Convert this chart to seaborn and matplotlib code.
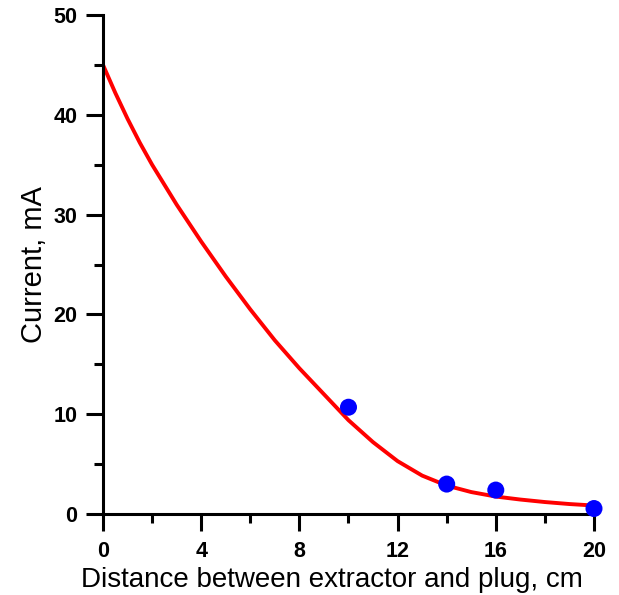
import numpy as np
import pandas as pd
import matplotlib
matplotlib.use("Agg")
import matplotlib.pyplot as plt
import seaborn as sns
from matplotlib.ticker import MultipleLocator

# Measured points
meas_x = [10, 14, 16, 20]
meas_y = [10.7, 3.0, 2.4, 0.55]

# Fitted curve, values
fit_x = [0, 0.5, 1, 1.5, 2, 3, 4, 5, 6, 7, 8, 9, 10, 11, 12, 13, 14, 15, 16, 17, 18, 19, 20]
fit_y = [45.0, 42.2, 39.6, 37.2, 35.0, 31.0, 27.3, 23.8, 20.5, 17.4, 14.6, 12.0, 9.4, 7.2,
         5.3, 3.85, 2.85, 2.2, 1.75, 1.45, 1.2, 1.0, 0.85]

x_ticks = [0, 4, 8, 12, 16, 20]
y_ticks = [0, 10, 20, 30, 40, 50]

sns.set_style("ticks")
plt.rcParams['font.family'] = ['Liberation Sans', 'DejaVu Sans']

fig = plt.figure(figsize=(6.19, 5.95), dpi=100)
ax = fig.add_axes([0.1664, 0.1361, 0.9596 - 0.1664, 0.9748 - 0.1361])

sns.lineplot(x=fit_x, y=fit_y, ax=ax, color=(1, 0, 0), linewidth=2.8, zorder=2)
sns.scatterplot(x=meas_x, y=meas_y, ax=ax, color=(0, 0, 1), s=150,
                edgecolor='none', zorder=3, clip_on=False)

ax.set_xlim(0, 20)
ax.set_ylim(0, 50)
ax.set_xticks(x_ticks)
ax.set_yticks(y_ticks)
ax.xaxis.set_minor_locator(MultipleLocator(2))
ax.yaxis.set_minor_locator(MultipleLocator(5))

for sp in ['top', 'right']:
    ax.spines[sp].set_visible(False)
for sp in ['left', 'bottom']:
    ax.spines[sp].set_linewidth(2.2)
    ax.spines[sp].set_color('black')

ax.tick_params(which='major', length=12.5, width=2.2, direction='out',
               color='black', labelsize=15.5, labelcolor='black')
ax.tick_params(which='minor', length=6.5, width=2.2, direction='out', color='black')
ax.tick_params(axis='x', which='major', pad=7)
ax.tick_params(axis='y', which='major', pad=6)
for lab in ax.get_xticklabels() + ax.get_yticklabels():
    lab.set_fontweight('bold')

ax.set_xlabel("Distance between extractor and plug, cm", fontsize=20, color='black')
ax.xaxis.set_label_coords(0.466, -0.107)
ax.set_ylabel("Current, mA", fontsize=21, labelpad=4, color='black')

fig.savefig("out.png", dpi=100)
